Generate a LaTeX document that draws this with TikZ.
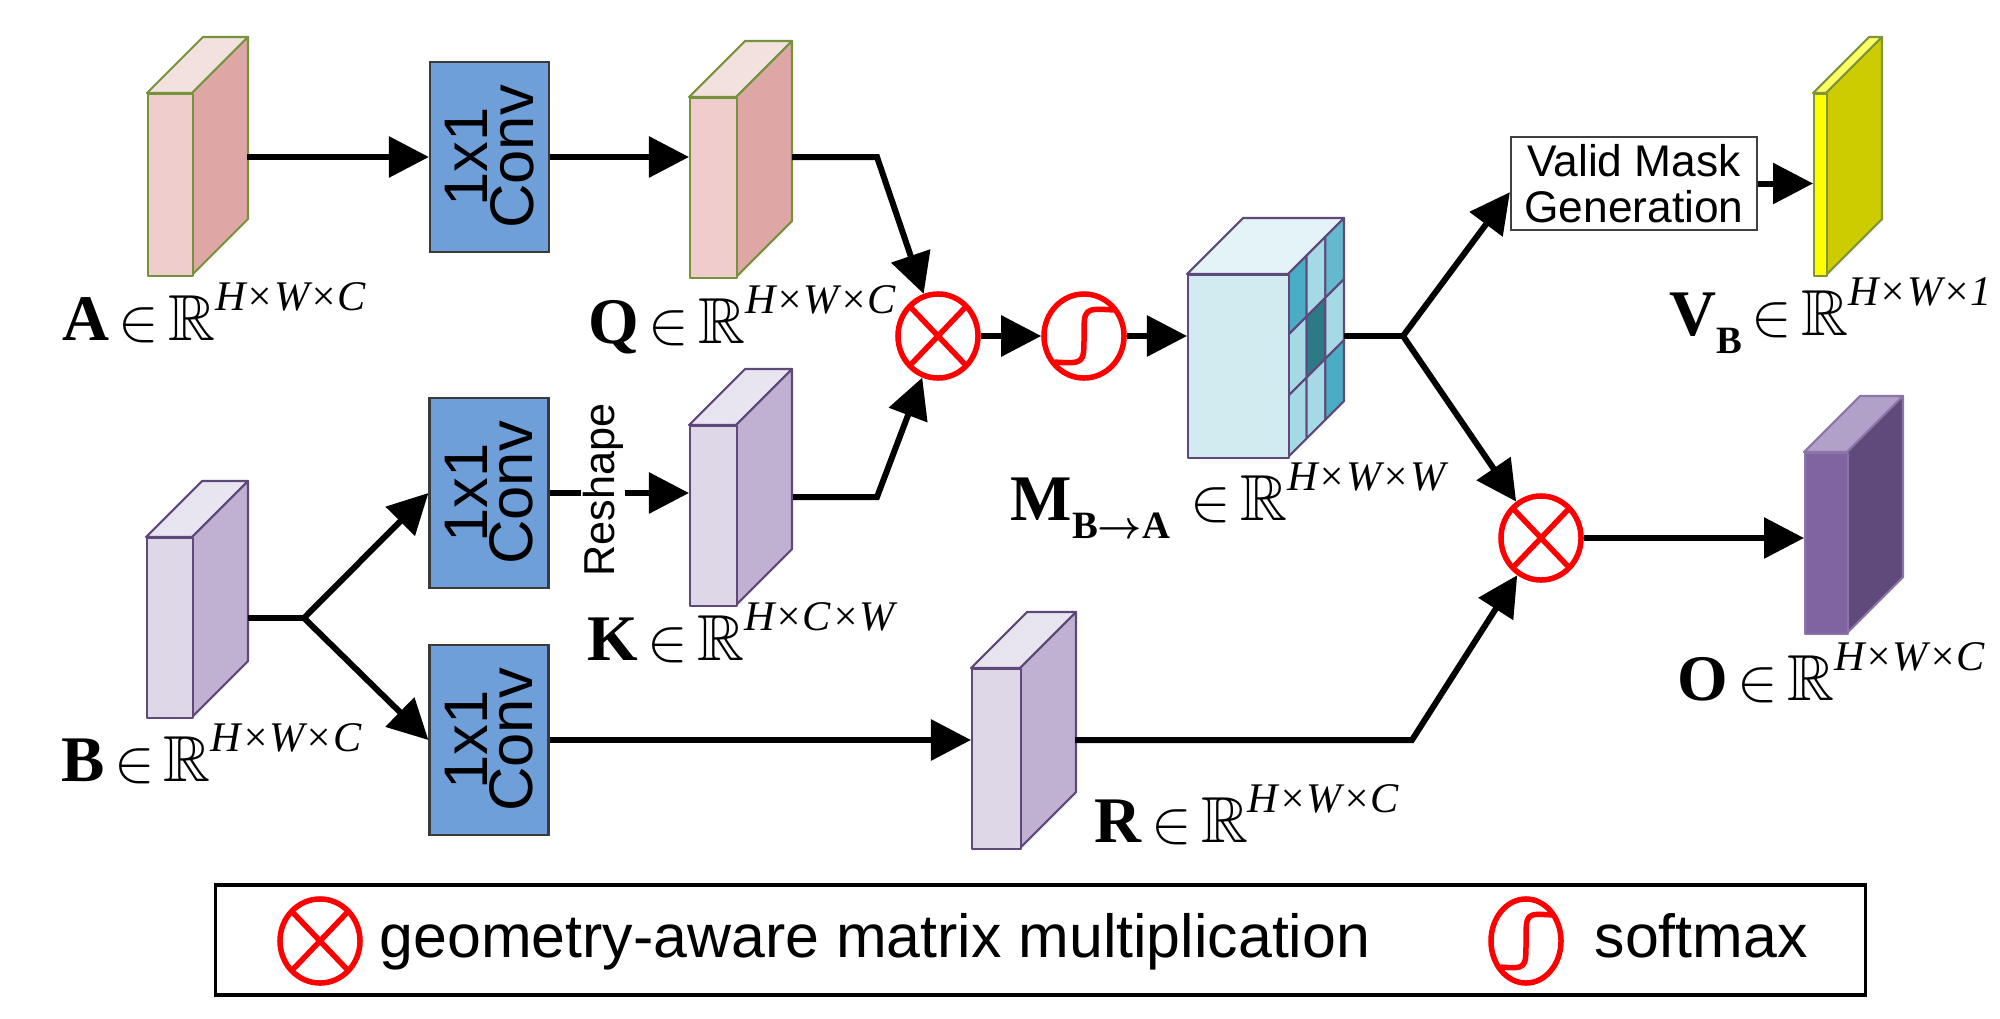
\documentclass[tikz,border=0pt]{standalone}
\usepackage{amssymb}
\usepackage{fontspec}
\setmainfont{Liberation Serif}
\setsansfont{Liberation Sans}
\usetikzlibrary{arrows.meta,shapes.geometric}

\definecolor{gbord}{HTML}{76923C}
\definecolor{afront}{HTML}{EFCDCC}
\definecolor{aside}{HTML}{DEA7A5}
\definecolor{atop}{HTML}{F3E1E0}
\definecolor{pbord}{HTML}{5F497A}
\definecolor{bfront}{HTML}{DDD7E8}
\definecolor{bside}{HTML}{C0B1D3}
\definecolor{btop}{HTML}{E9E5F0}
\definecolor{obord}{HTML}{8B75A8}
\definecolor{ofront}{HTML}{8064A2}
\definecolor{oside}{HTML}{604A7B}
\definecolor{otop}{HTML}{B1A0C7}
\definecolor{ybord}{HTML}{7F953A}
\definecolor{yfront}{HTML}{FFFF00}
\definecolor{yside}{HTML}{CCCC00}
\definecolor{ytop}{HTML}{FFFF66}
\definecolor{mfront}{HTML}{D2EBF1}
\definecolor{mtop}{HTML}{E3F3F8}
\definecolor{clt}{HTML}{A6D9E6}
\definecolor{cmd}{HTML}{4BACC6}
\definecolor{cml}{HTML}{64B9CF}
\definecolor{cdk}{HTML}{2B7A86}
\definecolor{convblue}{HTML}{6F9FD9}
\definecolor{convbord}{HTML}{3A3A3A}

\newcommand{\slab}[9]{%
  \filldraw[draw=#6,fill=#9,faceline] (#2,#3) -- ++(56,-56) -- ++(#4,0) -- ++(-56,56) -- cycle;
  \filldraw[draw=#6,fill=#8,faceline] (#2+#4,#3) -- ++(56,-56) -- ++(0,#5) -- ++(-56,56) -- cycle;
  \node[draw=#6,fill=#7,faceline,inner sep=0pt,minimum width=#4*0.01cm,minimum height=#5*0.01cm,anchor=north west] (#1) at (#2,#3) {};
}
\newcommand{\dimlab}[3]{\fontsize{18.5}{20}\selectfont\textbf{#1}\raisebox{-5.2pt}{\fontsize{11}{12}\selectfont\textbf{#2}}\hspace{0.14em}$\in$\hspace{0.14em}$\mathbb{R}$\raisebox{8.5pt}{\fontsize{12}{14}\selectfont\itshape #3}}

\tikzset{
  faceline/.style={line width=0.6pt,line join=round},
  ln/.style={line width=0.06cm},
  arr/.style={line width=0.06cm,-{Triangle[length=0.4cm,width=0.4cm]}},
  convbox/.style={draw=convbord,fill=convblue,line width=0.6pt,minimum width=1.19cm,minimum height=1.9cm,inner sep=0pt},
  convtxt/.style={rotate=90,inner sep=0pt,align=center,font=\sffamily\fontsize{17.5}{13}\selectfont},
  lab/.style={anchor=base west,inner sep=0pt},
  mult/.style={ellipse,draw=red,line width=0.055cm,inner sep=0pt,minimum width=0.8cm,minimum height=0.84cm,
    path picture={\draw[red,line width=0.055cm] (path picture bounding box.north west) -- (path picture bounding box.south east)
      (path picture bounding box.south west) -- (path picture bounding box.north east);}},
  smax/.style={ellipse,draw=red,line width=0.055cm,inner sep=0pt,minimum width=2*#1,minimum height=0.84cm,
    path picture={\draw[red,line width=0.055cm,shift={(path picture bounding box.center)},x=#1,y=0.42cm]
      (-0.74,-0.62) .. controls (0,-0.66) .. (0,0) .. controls (0,0.66) .. (0.74,0.62);}},
  legtxt/.style={anchor=base west,inner sep=0pt,font=\sffamily\fontsize{17.3}{20}\selectfont}
}

\begin{document}
\begin{tikzpicture}[x=0.01cm,y=-0.01cm]
\useasboundingbox (0,0) rectangle (2000,1018);

% feature blocks
\slab{A}{147}{93}{45}{182}{gbord}{afront}{aside}{atop}
\slab{Q}{689}{97}{47}{180}{gbord}{afront}{aside}{atop}
\slab{B}{146}{537}{46}{180}{pbord}{bfront}{bside}{btop}
\slab{K}{689}{425}{47}{180}{pbord}{bfront}{bside}{btop}
\slab{R}{971}{668}{49}{180}{pbord}{bfront}{bside}{btop}
\slab{O}{1804}{452}{43}{181}{obord}{ofront}{oside}{otop}
\slab{V}{1813}{93}{13}{182}{ybord}{yfront}{yside}{ytop}

% matching cube M
\filldraw[draw=pbord,fill=mtop,faceline] (1187,274) -- ++(56,-56) -- ++(101,0) -- ++(-56,56) -- cycle;
\foreach \i/\j/\c in {0/0/cmd,1/0/clt,2/0/cml,0/1/clt,1/1/cdk,2/1/clt,0/2/clt,1/2/clt,2/2/cmd}
  \filldraw[draw=pbord,fill=\c,faceline] ({1288+\i*56/3},{274-\i*56/3+\j*61}) -- ++(56/3,-56/3) -- ++(0,61) -- ++(-56/3,56/3) -- cycle;
\node[draw=pbord,fill=mfront,faceline,inner sep=0pt,minimum width=1.01cm,minimum height=1.83cm,anchor=north west] (M) at (1187,274) {};

% conv boxes
\node[convbox] (C1) at (489.5,157) {};
\node[convtxt] (C1t) at (C1) {1x1\\Conv};
\node[convbox] (C2) at (489,493) {};
\node[convtxt] (C2t) at (C2) {1x1\\Conv};
\node[convbox] (C3) at (489,740) {};
\node[convtxt] (C3t) at (C3) {1x1\\Conv};

% operators
\node[mult] (X1) at (938,336) {};
\node[smax=0.4cm] (S1) at (1084,336) {};
\node[mult] (X2) at (1541,538) {};

% valid mask box
\node[draw=black!75,line width=0.6pt,fill=white,minimum width=2.46cm,minimum height=0.93cm,inner sep=0pt,align=center,
  font=\sffamily\fontsize{12.6}{13}\selectfont] (VM) at (1634,183.5) {Valid Mask\\Generation};

% junctions
\coordinate (Ao) at (247,157);
\coordinate (Qo) at (792,157);
\coordinate (kQ) at (877,157);
\coordinate (Ko) at (793,497);
\coordinate (kK) at (877,497);
\coordinate (Bo) at (248,618);
\coordinate (bB) at (304,618);
\coordinate (Ro) at (1075,740);
\coordinate (kR) at (1412,740);
\coordinate (Mo) at (1344,336);
\coordinate (bM) at (1403,336);

% connectors
\draw[arr] (Ao) -- (Ao -| C1.west);
\draw[arr] (C1.east) -- (C1.east -| Q.west);
\draw[arr] (Qo) -- (kQ) -- (X1);
\draw[arr] (Ko) -- (kK) -- (X1);
\draw[arr] (X1) -- (S1);
\draw[arr] (S1) -- (S1 -| M.west);
\draw[ln] (Mo) -- (bM);
\draw[arr] (bM) -- (VM.184);
\draw[arr] (bM) -- (X2);
\draw[arr] (VM.east) -- (VM.east -| V.west);
\draw[ln] (Bo) -- (bB);
\draw[arr] (bB) -- (C2.west);
\draw[arr] (bB) -- (C3.west);
\draw[arr] (C2.east) -- (C2.east -| K.west);
\draw[arr] (C3.east) -- (C3.east -| R.west);
\draw[arr] (Ro) -- (kR) -- (X2);
\draw[arr] (X2) -- (X2 -| O.west);

\node[rotate=90,fill=white,inner sep=0.5pt,font=\sffamily\fontsize{12.3}{14}\selectfont] (rs) at (603,490) {Reshape};

% labels
\node[lab] (lA) at (62,340) {\dimlab{A}{}{H×W×C}};
\node[lab] (lQ) at (588,343) {\dimlab{Q}{}{H×W×C}};
\node[lab] (lK) at (587,660) {\dimlab{K}{}{H×C×W}};
\node[lab] (lB) at (61,781) {\dimlab{B}{}{H×W×C}};
\node[lab] (lR) at (1094,842) {\dimlab{R}{}{H×W×C}};
\node[lab] (lM) at (1010,520) {\dimlab{M}{B{\boldmath$\rightarrow$}A\hspace{0.3em}}{H×W×W}};
\node[lab] (lV) at (1669,335) {\dimlab{V}{B}{H×W×1}};
\node[lab] (lO) at (1677,700) {\dimlab{O}{}{H×W×C}};

% legend
\node[draw,line width=1pt,minimum width=16.49cm,minimum height=1.1cm,inner sep=0pt] (leg) at (1040.5,940) {};
\node[mult] (lX) at (320,941) {};
\node[legtxt] (lt1) at (379,957) {geometry-aware matrix multiplication};
\node[smax=0.35cm] (lS) at (1526,941) {};
\node[legtxt] (lt2) at (1594,957) {softmax};
\end{tikzpicture}
\end{document}
